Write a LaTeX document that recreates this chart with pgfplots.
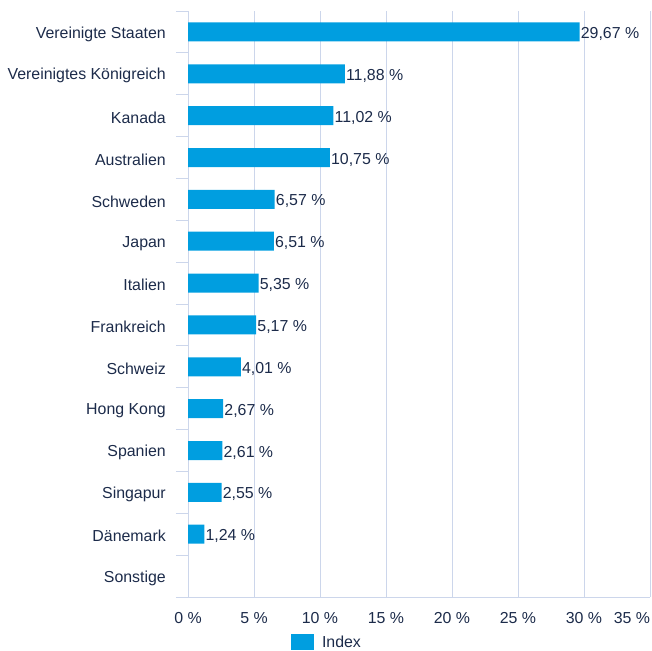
\documentclass[border=0pt]{standalone}
\usepackage{fontspec}
\setmainfont{Liberation Sans}
\usepackage{pgfplots}
\pgfplotsset{compat=1.18}
\definecolor{barcol}{HTML}{009EE0}
\definecolor{txtcol}{HTML}{1C2B4A}
\definecolor{gridcol}{HTML}{CCD6EB}
\begin{document}
\fontsize{15.9bp}{18bp}\selectfont
\begin{tikzpicture}
\useasboundingbox (0,0) rectangle (652bp,651bp);
\begin{axis}[
 at={(188bp,54bp)}, anchor=south west,
 scale only axis, width=462bp, height=586bp,
 /pgf/number format/assume math mode=true,
 xbar, bar width=19bp,
 xmin=0, xmax=35, ymin=-0.5, ymax=13.5, y dir=reverse,
 axis lines=left,
 axis line style={-, draw=gridcol, line width=1bp},
 xtick={0,5,...,35},
 xticklabels={0~\%,5~\%,10~\%,15~\%,20~\%,25~\%,30~\%,\makebox[0pt][r]{35~\%}},
 xmajorgrids, grid style={draw=gridcol, line width=1bp},
 major tick length=0pt,
 xtick style={draw=none},
 ytick={0,...,13},
 yticklabels={Vereinigte Staaten,Vereinigtes Königreich,Kanada,Australien,Schweden,Japan,Italien,Frankreich,Schweiz,Hong Kong,Spanien,Singapur,Dänemark,Sonstige},
 ytick style={draw=none},
 minor ytick={-0.5,0.5,...,13.5},
 minor y tick style={draw=gridcol, line width=1bp},
 minor tick length=12bp,
 tick align=outside,
 tick label style={text=txtcol},
 yticklabel style={inner sep=0pt, xshift=-22bp, yshift=-2bp},
 xticklabel style={inner sep=0pt, yshift=-15bp},
 point meta=x,
 nodes near coords={\pgfmathprintnumber[fixed,fixed zerofill,precision=2,use comma]{\pgfplotspointmeta}~\%},
 nodes near coords style={text=txtcol, inner sep=1bp, anchor=west, yshift=-2bp},
 legend style={at={(0.2987,-0.0768)}, anchor=center, draw=none, fill=none, text=txtcol,
   nodes={inner sep=0pt, text depth=0pt}},
 legend image code/.code={\fill[barcol] (0bp,-8bp) rectangle (23bp,8bp);},
]
\addplot[fill=barcol, draw=none] coordinates {
(29.67,0) (11.88,1) (11.02,2) (10.75,3) (6.57,4) (6.51,5) (5.35,6)
(5.17,7) (4.01,8) (2.67,9) (2.61,10) (2.55,11) (1.24,12)};
\addlegendentry{\hspace{8bp}Index}
\end{axis}
\end{tikzpicture}
\end{document}
